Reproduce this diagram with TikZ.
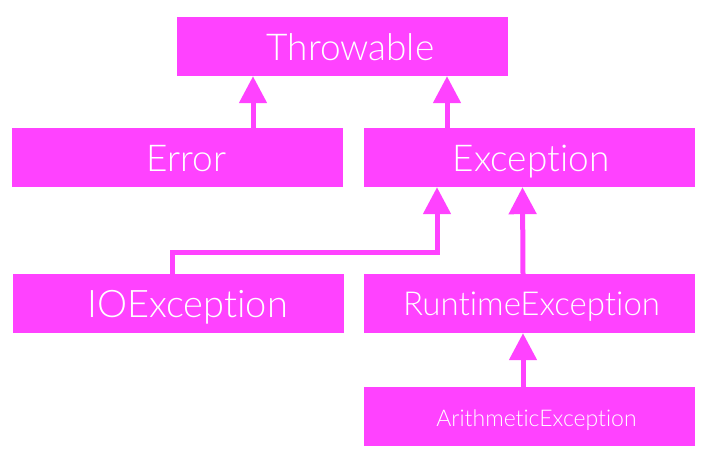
\documentclass[tikz,border=0pt]{standalone}
\usepackage{fontspec}
\setmainfont{Lato Light}[Ligatures={NoCommon}]
\usetikzlibrary{arrows.meta}
\definecolor{mag}{RGB}{255,66,255}
\begin{document}
\begin{tikzpicture}[x=1pt,y=-1pt,
  box/.style={fill=mag,draw=none,minimum width=331pt,minimum height=59pt,inner sep=0pt,text=white,text depth=0pt,text height=27pt},
  conn/.style={draw=mag,line width=5pt,-{Triangle[width=27pt,length=27pt]}}]
\useasboundingbox (0,0) rectangle (707,460);
\node[box,font=\fontsize{37}{40}\selectfont] (thr) at (342.5,46.5) {\hspace*{16pt}Throwable};
\node[box,font=\fontsize{37}{40}\selectfont] (err) at (177.5,157.5) {\hspace*{18pt}Error};
\node[box,font=\fontsize{37}{40}\selectfont] (exc) at (529,157.5) {\hspace*{4pt}Exception};
\node[box,font=\fontsize{38}{40}\selectfont] (io) at (178.5,303.5) {\hspace*{18pt}IOException};
\node[box,font=\fontsize{33}{36}\selectfont,text height=23pt] (rt) at (529.5,303.5) {\hspace*{4pt}RuntimeException};
\node[box,font=\fontsize{23}{26}\selectfont,text height=19pt] (ar) at (529.5,416.5) {\hspace*{14pt}ArithmeticException};
\draw[conn] ([xshift=75.5pt]err.north) -- ([xshift=75.5pt]err.north |- thr.south);
\draw[conn] ([xshift=-82pt]exc.north) -- ([xshift=-82pt]exc.north |- thr.south);
\draw[conn] ([xshift=-6.5pt]io.north) -- ++(0,-21) -| ([xshift=-92pt]exc.south);
\draw[conn] ([xshift=-6.5pt]rt.north) -- ([xshift=-6.5pt]exc.south);
\draw[conn] ([xshift=-6.5pt]ar.north) -- ([xshift=-6.5pt]rt.south);
\end{tikzpicture}
\end{document}
